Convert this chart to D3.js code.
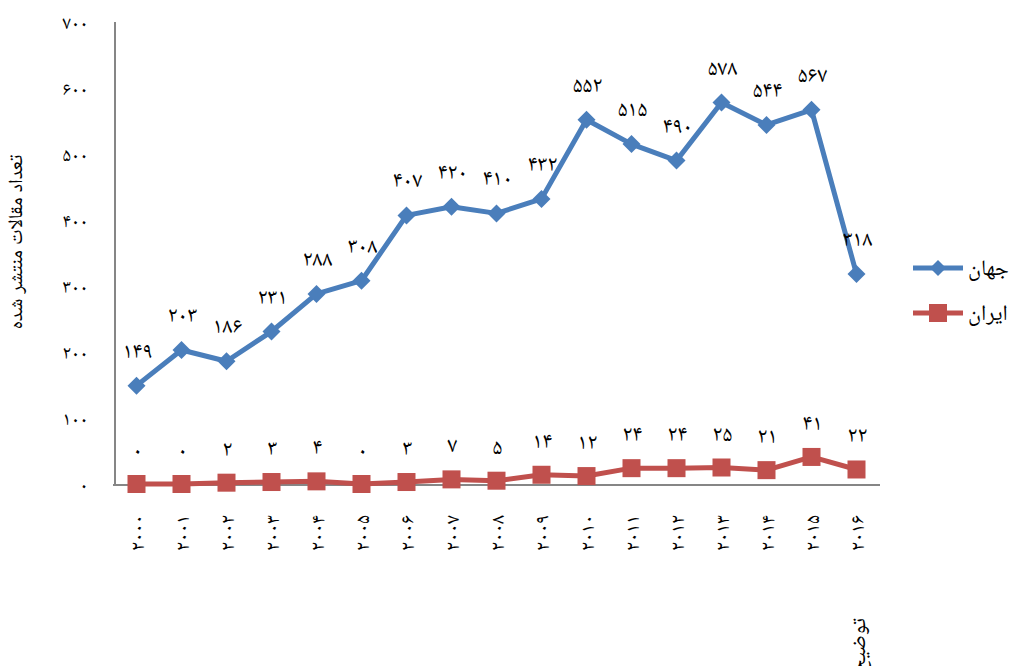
<!DOCTYPE html>
<html><head><meta charset="utf-8">
<script src="https://cdn.jsdelivr.net/npm/d3@7"></script>
<style>
body{margin:0;background:#fff;}
svg{display:block;}
text{font-family:"Times New Roman","Noto Naskh Arabic","Liberation Serif","DejaVu Serif","DejaVu Sans",serif;fill:#000;}
</style></head><body>
<svg id="c" width="1013" height="666"></svg>
<script>
const years = ["۲۰۰۰","۲۰۰۱","۲۰۰۲","۲۰۰۳","۲۰۰۴","۲۰۰۵","۲۰۰۶","۲۰۰۷","۲۰۰۸","۲۰۰۹","۲۰۱۰","۲۰۱۱","۲۰۱۲","۲۰۱۳","۲۰۱۴","۲۰۱۵","۲۰۱۶"];
const world = [149,203,186,231,288,308,407,420,410,432,552,515,490,578,544,567,318];
const iran = [0,0,2,3,4,0,3,7,5,14,12,24,24,25,21,41,22];
const yTicks = [0,100,200,300,400,500,600,700];
const seriesNames = ["جهان","ایران"];
const yTitle = "تعداد مقالات منتشر شده";
const note = "توضیح:";

const fa = n => String(n).replace(/\d/g, d => "۰۱۲۳۴۵۶۷۸۹"[d]);

const svg = d3.select("#c");
const L = 115, R = 880, T = 22, B = 485;
const x = d3.scaleBand().domain(years).range([L, R]);
const y = d3.scaleLinear().domain([0, 700]).range([B - 1, T]);
const cx = d => x(d) + x.bandwidth()/2 - 1;

const blue = "#4A7EBB", red = "#C0504D", axisC = "#868686";

// axes
const yAxis = svg.append("g").attr("transform", `translate(${L},0)`)
  .call(d3.axisLeft(y).tickValues(yTicks).tickSize(0).tickPadding(27).tickFormat(fa));
yAxis.select(".domain").attr("stroke", axisC).attr("stroke-width", 2).attr("d", `M0,${T}V${B}`);
yAxis.selectAll("text").attr("font-size", 19);

const xAxis = svg.append("g").attr("transform", `translate(0,${B})`)
  .call(d3.axisBottom(x).tickSize(0).tickFormat(d => d));
xAxis.select(".domain").attr("stroke", axisC).attr("stroke-width", 2).attr("d", `M${L-2},0H${R}`);
xAxis.selectAll("text")
  .attr("font-size", 20)
  .attr("text-anchor", "end")
  .attr("transform", "translate(-1,30) rotate(-90)")
  .attr("dy", "0.35em").attr("dx", 0).attr("y", 0);

// y title
svg.append("text").attr("transform", "translate(22,242) rotate(-90)")
  .attr("text-anchor", "middle").attr("font-size", 20).attr("direction","rtl").text(yTitle);

// lines
const line = d3.line().x((d,i) => cx(years[i])).y(d => y(d));
svg.append("path").datum(world).attr("d", line).attr("fill","none").attr("stroke", blue).attr("stroke-width", 5).attr("stroke-linejoin","round");
svg.append("path").datum(iran).attr("d", line).attr("fill","none").attr("stroke", red).attr("stroke-width", 5).attr("stroke-linejoin","round");

// markers
const dia = 9;
svg.append("g").selectAll("path").data(world).join("path")
  .attr("d", (d,i) => { const px = cx(years[i]), py = y(d); return `M${px},${py-dia}L${px+dia},${py}L${px},${py+dia}L${px-dia},${py}Z`; })
  .attr("fill", blue);
const sq = 18;
svg.append("g").selectAll("rect").data(iran).join("rect")
  .attr("x", (d,i) => cx(years[i]) - sq/2).attr("y", d => y(d) - sq/2)
  .attr("width", sq).attr("height", sq).attr("fill", red);

// data labels
svg.append("g").selectAll("text").data(world).join("text")
  .attr("x", (d,i) => cx(years[i]) + 1).attr("y", d => y(d) - 28)
  .attr("text-anchor","middle").attr("font-size", 22).text(fa);
svg.append("g").selectAll("text").data(iran).join("text")
  .attr("x", (d,i) => cx(years[i]) + 1).attr("y", d => y(d) - 27)
  .attr("text-anchor","middle").attr("font-size", 22).text(fa);

// legend
const lg = svg.append("g");
[[268, blue, "d"], [313, red, "s"]].forEach(([ly, col, m], k) => {
  lg.append("line").attr("x1", 913).attr("x2", 963).attr("y1", ly).attr("y2", ly).attr("stroke", col).attr("stroke-width", 5);
  if (m === "d") lg.append("path").attr("d", `M938,${ly-8}L946,${ly}L938,${ly+8}L930,${ly}Z`).attr("fill", col);
  else lg.append("rect").attr("x", 929).attr("y", ly-9).attr("width", 18).attr("height", 18).attr("fill", col);
  lg.append("text").attr("x", 968).attr("y", ly).attr("dy","0.3em").attr("font-size", 22).text(seriesNames[k]);
});

// note
svg.append("text").attr("transform", "translate(858,618) rotate(-90)")
  .attr("text-anchor", "start").attr("dy","0.35em").attr("font-size", 21).attr("direction","rtl").text(note);
</script>
</body></html>
